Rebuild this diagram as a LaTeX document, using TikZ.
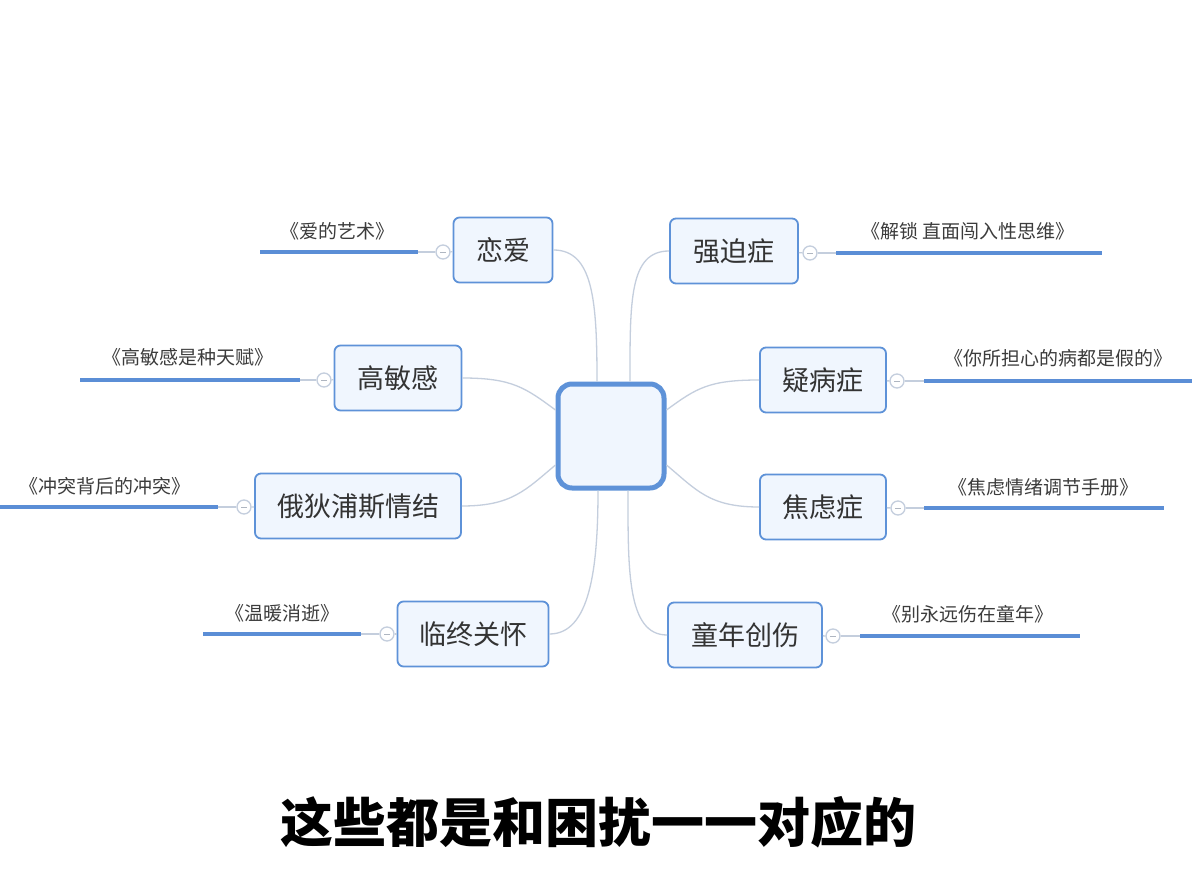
\documentclass[tikz,border=0pt]{standalone}
\usepackage{fontspec}
\setmainfont{Noto Sans CJK SC}
\definecolor{nodeblue}{HTML}{5E92D8}
\definecolor{nodefill}{HTML}{F0F6FE}
\definecolor{linkgray}{HTML}{C4CEDD}
\definecolor{txt}{HTML}{333333}
\definecolor{booktxt}{HTML}{3C3C3C}
\definecolor{ulblue}{HTML}{5B8ED6}
\begin{document}
\begin{tikzpicture}[x=1pt,y=-1pt,
  topic/.style={draw=nodeblue, line width=1.8pt, fill=nodefill, rounded corners=6pt,
    inner sep=0pt, text=txt, font=\fontsize{27}{30}\selectfont, minimum height=65pt},
  central/.style={draw=nodeblue, line width=5pt, fill=nodefill, rounded corners=14pt,
    inner sep=0pt, minimum width=106pt, minimum height=104pt},
  link/.style={draw=linkgray, line width=1.3pt},
  uline/.style={draw=ulblue, line width=3.5pt},
  fold/.style={circle, draw=linkgray, line width=1.3pt, fill=white, minimum size=14pt, inner sep=0pt,
    path picture={\draw[linkgray!70!gray, line width=0.9pt] ([xshift=-3pt]path picture bounding box.center) -- ([xshift=3pt]path picture bounding box.center);}},
  book/.style={text=booktxt, font=\fontsize{19}{22}\selectfont, inner sep=0pt},
  caption/.style={text=black, font=\fontsize{53}{60}\selectfont\bfseries, inner sep=0pt}
]
\useasboundingbox[fill=white] (0,0) rectangle (1192,888);

\node[central] (c) at (611,436) {};

% topics
\node[topic, minimum width=99pt]  (t1) at (503,250) {恋爱};
\node[topic, minimum width=128pt] (t2) at (734,251) {强迫症};
\node[topic, minimum width=127pt] (t3) at (398,378) {高敏感};
\node[topic, minimum width=126pt] (t4) at (823,380) {疑病症};
\node[topic, minimum width=206pt] (t5) at (358,506) {俄狄浦斯情结};
\node[topic, minimum width=126pt] (t6) at (823,507) {焦虑症};
\node[topic, minimum width=151pt] (t7) at (473,634) {临终关怀};
\node[topic, minimum width=154pt] (t8) at (745,635) {童年创伤};

% central connectors
\draw[link] ([xshift=-14pt]c.north) .. controls +(0,-80) and +(40,0) .. (t1.east);
\draw[link] ([xshift=19pt]c.north) .. controls +(0,-80) and +(-40,0) .. (t2.west);
\draw[link] ([yshift=26pt]c.west) .. controls +(-30,-22) and +(50,0) .. (t3.east);
\draw[link] ([yshift=26pt]c.east) .. controls +(30,-22) and +(-50,0) .. (t4.west);
\draw[link] ([yshift=-29pt]c.west) .. controls +(-30,25) and +(50,0) .. (t5.east);
\draw[link] ([yshift=-29pt]c.east) .. controls +(30,25) and +(-50,0) .. (t6.west);
\draw[link] ([xshift=-13pt]c.south) .. controls +(0,80) and +(40,0) .. (t7.east);
\draw[link] ([xshift=17pt]c.south) .. controls +(0,80) and +(-40,0) .. (t8.west);

% fold circles
\node[fold] (k1) at (443,252) {};
\node[fold] (k2) at (810,253) {};
\node[fold] (k3) at (324,380) {};
\node[fold] (k4) at (897,381) {};
\node[fold] (k5) at (244,507) {};
\node[fold] (k6) at (898,508) {};
\node[fold] (k7) at (387,634) {};
\node[fold] (k8) at (833,636) {};

% underline endpoints
\coordinate (u1a) at (260,252);  \coordinate (u1b) at (418,252);
\coordinate (u2a) at (836,253);  \coordinate (u2b) at (1102,253);
\coordinate (u3a) at (80,380);   \coordinate (u3b) at (300,380);
\coordinate (u4a) at (924,381);  \coordinate (u4b) at (1192,381);
\coordinate (u5a) at (0,507);    \coordinate (u5b) at (218,507);
\coordinate (u6a) at (924,508);  \coordinate (u6b) at (1164,508);
\coordinate (u7a) at (203,634);  \coordinate (u7b) at (361,634);
\coordinate (u8a) at (860,636);  \coordinate (u8b) at (1080,636);

% short links
\draw[link] (t1) -- (k1);  \draw[link] (k1) -- (u1b);
\draw[link] (t2) -- (k2);  \draw[link] (k2) -- (u2a);
\draw[link] (t3) -- (k3);  \draw[link] (k3) -- (u3b);
\draw[link] (t4) -- (k4);  \draw[link] (k4) -- (u4a);
\draw[link] (t5) -- (k5);  \draw[link] (k5) -- (u5b);
\draw[link] (t6) -- (k6);  \draw[link] (k6) -- (u6a);
\draw[link] (t7) -- (k7);  \draw[link] (k7) -- (u7b);
\draw[link] (t8) -- (k8);  \draw[link] (k8) -- (u8a);

% underlines
\draw[uline] (u1a) -- (u1b);
\draw[uline] (u2a) -- (u2b);
\draw[uline] (u3a) -- (u3b);
\draw[uline] (u4a) -- (u4b);
\draw[uline] (u5a) -- (u5b);
\draw[uline] (u6a) -- (u6b);
\draw[uline] (u7a) -- (u7b);
\draw[uline] (u8a) -- (u8b);

% book labels
\node[book] (b1) at (337,231) {《爱的艺术》};
\node[book] (b2) at (968,231) {《解锁 直面闯入性思维》};
\node[book] (b3) at (188,357) {《高敏感是种天赋》};
\node[book] (b4) at (1058,358) {《你所担心的病都是假的》};
\node[book] (b5) at (105,486) {《冲突背后的冲突》};
\node[book] (b6) at (1043,487) {《焦虑情绪调节手册》};
\node[book] (b7) at (282,613) {《温暖消逝》};
\node[book] (b8) at (968,614) {《别永远伤在童年》};

% caption
\node[caption] (cap) at (598,822) {这些都是和困扰一一对应的};
\end{tikzpicture}
\end{document}
